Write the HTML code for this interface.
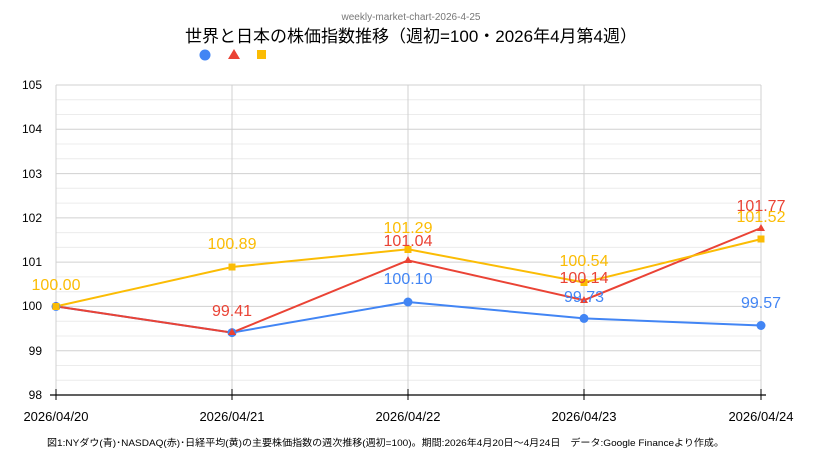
<!DOCTYPE html>
<html><head><meta charset="utf-8"><style>
body{margin:0;background:#fff;width:822px;height:468px;overflow:hidden}
svg{display:block}
text{font-family:"Liberation Sans","Noto Sans CJK JP",sans-serif}
</style></head><body>
<svg width="822" height="468" viewBox="0 0 822 468">
<text x="411" y="20" font-size="10" fill="#777" text-anchor="middle">weekly-market-chart-2026-4-25</text>
<text x="411" y="42" font-size="17" fill="#000" text-anchor="middle">世界と日本の株価指数推移（週初=100・2026年4月第4週）</text>
<circle cx="205" cy="55" r="5.5" fill="#4285f4"/>
<polygon points="234,49 240,59 228,59" fill="#ea4335"/>
<rect x="257" y="50" width="9" height="9" fill="#fbbc04"/>
<g stroke="#ececec" stroke-width="1">
<line x1="56" x2="761" y1="99.8" y2="99.8"/><line x1="56" x2="761" y1="114.5" y2="114.5"/>
<line x1="56" x2="761" y1="144" y2="144"/><line x1="56" x2="761" y1="158.8" y2="158.8"/>
<line x1="56" x2="761" y1="188.3" y2="188.3"/><line x1="56" x2="761" y1="203.1" y2="203.1"/>
<line x1="56" x2="761" y1="232.6" y2="232.6"/><line x1="56" x2="761" y1="247.4" y2="247.4"/>
<line x1="56" x2="761" y1="276.9" y2="276.9"/><line x1="56" x2="761" y1="291.7" y2="291.7"/>
<line x1="56" x2="761" y1="321.2" y2="321.2"/><line x1="56" x2="761" y1="336" y2="336"/>
<line x1="56" x2="761" y1="365.5" y2="365.5"/><line x1="56" x2="761" y1="380.3" y2="380.3"/>
</g>
<g stroke="#d0d0d0" stroke-width="1">
<line x1="56" x2="761" y1="85" y2="85"/><line x1="56" x2="761" y1="129.3" y2="129.3"/>
<line x1="56" x2="761" y1="173.6" y2="173.6"/><line x1="56" x2="761" y1="217.9" y2="217.9"/>
<line x1="56" x2="761" y1="262.1" y2="262.1"/><line x1="56" x2="761" y1="306.4" y2="306.4"/>
<line x1="56" x2="761" y1="350.7" y2="350.7"/>
<line x1="56" x2="56" y1="85" y2="395"/><line x1="232" x2="232" y1="85" y2="395"/>
<line x1="408" x2="408" y1="85" y2="395"/><line x1="584" x2="584" y1="85" y2="395"/>
<line x1="761" x2="761" y1="85" y2="395"/>
</g>
<line x1="50" x2="766" y1="395" y2="395" stroke="#000" stroke-width="1.3"/>
<g stroke="#000"><line x1="56" x2="56" y1="389" y2="400"/><line x1="232" x2="232" y1="389" y2="400"/><line x1="408" x2="408" y1="389" y2="400"/><line x1="584" x2="584" y1="389" y2="400"/><line x1="761" x2="761" y1="389" y2="400"/></g>
<g font-size="12" text-anchor="end" fill="#000">
<text x="42" y="89">105</text><text x="42" y="133">104</text><text x="42" y="178">103</text><text x="42" y="222">102</text><text x="42" y="266">101</text><text x="42" y="310">100</text><text x="42" y="355">99</text><text x="42" y="399">98</text>
</g>
<g font-size="13" text-anchor="middle" fill="#000">
<text x="56" y="421">2026/04/20</text><text x="232" y="421">2026/04/21</text><text x="408" y="421">2026/04/22</text><text x="584" y="421">2026/04/23</text><text x="761" y="421">2026/04/24</text>
</g>
<text x="47" y="446" font-size="9.5" textLength="677" lengthAdjust="spacingAndGlyphs" fill="#000">図1:NYダウ(青)･NASDAQ(赤)･日経平均(黄)の主要株価指数の週次推移(週初=100)。期間:2026年4月20日～4月24日　データ:Google Financeより作成。</text>
<polyline points="56,306.4 232,332.6 408,302 584,318.4 761,325.5" fill="none" stroke="#4285f4" stroke-width="2"/>
<polyline points="56,306.4 232,332.6 408,260.4 584,300.2 761,228" fill="none" stroke="#ea4335" stroke-width="2"/>
<polyline points="56,306.4 232,267 408,249.3 584,282.5 761,239.1" fill="none" stroke="#fbbc04" stroke-width="2"/>
<g fill="#4285f4"><circle cx="56" cy="306.4" r="4.5"/><circle cx="232" cy="332.6" r="4.5"/><circle cx="408" cy="302" r="4.5"/><circle cx="584" cy="318.4" r="4.5"/><circle cx="761" cy="325.5" r="4.5"/></g>
<g fill="#ea4335"><polygon points="56,302 60,309 52,309"/><polygon points="232,328 236,335 228,335"/><polygon points="408,256 412,263 404,263"/><polygon points="584,296 588,303 580,303"/><polygon points="761,224 765,231 757,231"/></g>
<g fill="#fbbc04"><rect x="52.5" y="303" width="7" height="7"/><rect x="228.5" y="263.5" width="7" height="7"/><rect x="404.5" y="246" width="7" height="7"/><rect x="580.5" y="279" width="7" height="7"/><rect x="757.5" y="235.5" width="7" height="7"/></g>
<g font-size="16" text-anchor="middle">
<text x="408" y="284" fill="#4285f4">100.10</text><text x="584" y="302" fill="#4285f4">99.73</text><text x="761" y="308" fill="#4285f4">99.57</text>
<text x="232" y="316" fill="#ea4335">99.41</text><text x="408" y="246" fill="#ea4335">101.04</text><text x="584" y="283" fill="#ea4335">100.14</text><text x="761" y="211" fill="#ea4335">101.77</text>
<text x="56" y="290" fill="#fbbc04">100.00</text><text x="232" y="249" fill="#fbbc04">100.89</text><text x="408" y="233" fill="#fbbc04">101.29</text><text x="584" y="266" fill="#fbbc04">100.54</text><text x="761" y="222" fill="#fbbc04">101.52</text>
</g>
</svg>
</body></html>
